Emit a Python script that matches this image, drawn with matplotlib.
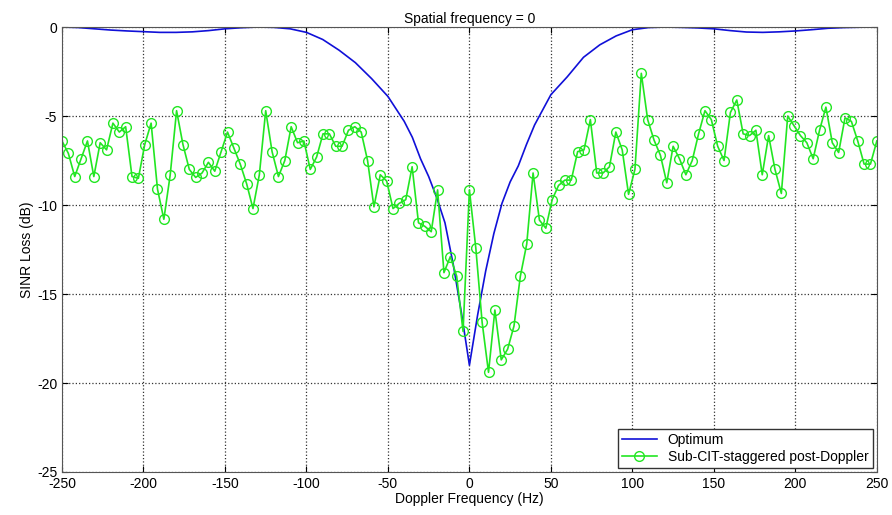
import matplotlib
matplotlib.use('Agg')
import matplotlib.pyplot as plt
import numpy as np

plt.rcParams['font.family'] = ['Liberation Sans', 'DejaVu Sans']
plt.rcParams['axes.unicode_minus'] = False

# Optimum curve, read at selected Doppler frequencies (Hz)
opt_freq = [-250, -240, -230, -220, -210, -200, -190, -180, -170, -160, -150, -140,
            -130, -120, -110, -100, -90, -80, -70, -60, -50, -40, -35, -30, -25, -20,
            -15, -10, -5, 0, 5, 10, 15, 20, 25, 30, 35, 40, 50, 60, 70, 80, 90, 100,
            110, 120, 130, 140, 150, 160, 170, 180, 190, 200, 210, 220, 230, 240, 250]
opt_loss = [0, -0.03, -0.1, -0.17, -0.22, -0.26, -0.3, -0.3, -0.27, -0.2, -0.1, -0.04,
            0, -0.02, -0.1, -0.3, -0.7, -1.3, -2.0, -2.9, -3.9, -5.3, -6.2, -7.4, -8.4, -9.6,
            -11.0, -13.3, -16.0, -19.0, -16.2, -13.7, -11.6, -9.9, -8.7, -7.8, -6.6, -5.5, -3.8, -2.8, -1.7, -1.0, -0.5, -0.15,
            -0.03, 0, -0.02, -0.05, -0.1, -0.2, -0.28, -0.3, -0.27, -0.22, -0.15, -0.07, -0.03, -0.01, 0]

# Sub-CIT-staggered post-Doppler, 129 Doppler bins from -250 to 250 Hz
sub_loss = [-6.4, -7.1, -8.4, -7.4, -6.4, -8.4, -6.5, -6.9, -5.4, -5.9,
            -5.6, -8.4, -8.5, -6.6, -5.4, -9.1, -10.8, -8.3, -4.7, -6.6,
            -8.0, -8.45, -8.2, -7.6, -8.1, -7.0, -5.9, -6.8, -7.7, -8.8,
            -10.2, -8.3, -4.7, -7.0, -8.4, -7.5, -5.6, -6.5, -6.4, -8.0,
            -7.3, -6.0, -6.0, -6.7, -6.7, -5.8, -5.6, -5.9, -7.5, -10.1,
            -8.3, -8.65, -10.2, -9.9, -9.7, -7.85, -11.0, -11.2, -11.5, -9.15,
            -13.8, -12.9, -14.0, -17.1, -9.15, -12.4, -16.6, -19.4, -15.9, -18.7,
            -18.1, -16.8, -14.0, -12.2, -8.2, -10.85, -11.3, -9.7, -8.9, -8.6,
            -8.6, -7.0, -6.9, -5.2, -8.2, -8.2, -7.85, -5.9, -6.9, -9.4,
            -8.0, -2.6, -5.2, -6.35, -7.2, -8.75, -6.7, -7.4, -8.3, -7.5,
            -6.0, -4.7, -5.2, -6.7, -7.5, -4.8, -4.1, -6.0, -6.1, -5.8,
            -8.3, -6.1, -8.0, -9.35, -5.0, -5.55, -6.1, -6.5, -7.4, -5.8,
            -4.5, -6.5, -7.05, -5.1, -5.3, -6.4, -7.7, -7.7, -6.4]
sub_freq = np.linspace(-250, 250, len(sub_loss))

fig = plt.figure(figsize=(8.92, 5.15), dpi=100)
ax = fig.add_axes([0.0695, 0.0835, 0.9135, 0.864])

ax.plot(opt_freq, opt_loss, color='#1010d8', lw=1.2, label='Optimum')
ax.plot(sub_freq, sub_loss, color='#22e622', lw=1.2, marker='o', markersize=7,
        markerfacecolor='none', markeredgecolor='#22e622', markeredgewidth=1.0,
        label='Sub-CIT-staggered post-Doppler')

ax.set_xlim(-250, 250)
ax.set_ylim(-25, 0)
ax.set_xticks(np.arange(-250, 251, 50))
ax.set_yticks(np.arange(-25, 1, 5))
ax.grid(True, linestyle=':', color='#333333', linewidth=0.9)
ax.tick_params(direction='in', labelsize=10, top=True, right=True, length=4)
for s in ax.spines.values():
    s.set_color('#555555')

ax.set_title('Spatial frequency = 0', fontsize=10, pad=3)
ax.set_xlabel('Doppler Frequency (Hz)', fontsize=10, labelpad=1)
ax.set_ylabel('SINR Loss (dB)', fontsize=10, labelpad=2)

leg = ax.legend(loc='lower right', fontsize=10, fancybox=False, framealpha=1,
                edgecolor='#333333', borderaxespad=0.3, handlelength=2.5,
                borderpad=0.3, labelspacing=0.2)

fig.savefig('out.png', dpi=100)
